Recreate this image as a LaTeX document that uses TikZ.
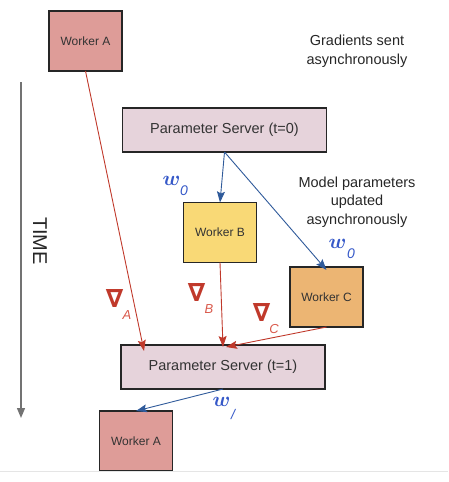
\documentclass[tikz,border=0pt]{standalone}
\usepackage{amsmath,amssymb}
\usepackage{fontspec}
\setmainfont{Liberation Sans}
\newfontfamily\nablafont{DejaVu Sans}
\usepackage{xcolor}
\usetikzlibrary{arrows.meta,positioning,calc}

\definecolor{workerred}{HTML}{DE9C98}
\definecolor{workeryellow}{HTML}{F9D976}
\definecolor{workerorange}{HTML}{ECB573}
\definecolor{serverpink}{HTML}{E6D3DB}
\definecolor{gradred}{HTML}{C0392B}
\definecolor{gradsub}{HTML}{D9584A}
\definecolor{pushblue}{HTML}{2F5A9A}
\definecolor{wblue}{HTML}{3558C8}

\begin{document}
\begin{tikzpicture}[
    x=1pt, y=-1pt,
    font=\fontsize{12}{14}\selectfont,
    worker/.style={rectangle, draw=black!85, line width=1.2pt, inner sep=0pt, outer sep=0pt, minimum width=73pt, minimum height=60pt, text=black!80},
    server/.style={rectangle, draw=black!85, line width=1.2pt, fill=serverpink, inner sep=0pt, outer sep=0pt, minimum width=204pt, minimum height=44pt, text=black!80, font=\fontsize{14.5}{16}\selectfont},
    grad/.style={->, >={Stealth[length=11pt,width=8pt,inset=2pt]}, line width=0.9pt, gradred},
    push/.style={->, >={Stealth[length=11pt,width=8pt,inset=2pt]}, line width=0.9pt, pushblue},
    note/.style={align=center, text=black!85, font=\fontsize{14.5}{18.5}\selectfont},
    wlab/.style={inner sep=0pt, text=wblue, font=\fontsize{21}{21}\selectfont},
    glab/.style={inner sep=0pt, text=gradred, font=\nablafont\bfseries\fontsize{25}{25}\selectfont},
    wsub/.style={inner sep=0pt, text=wblue, font=\fontsize{14}{14}\selectfont\itshape},
    gsub/.style={inner sep=0pt, text=gradsub, font=\fontsize{13}{13}\selectfont\itshape}
]
    \useasboundingbox (0,0) rectangle (448,482);

    % Time axis
    \coordinate (timetop) at (21,82);
    \coordinate (timebot) at (21,418);
    \draw[line width=1.4pt, black!55, -{Triangle[length=10pt,width=8pt]}] (timetop) -- (timebot);
    \node[rotate=-90, text=black!85, font=\fontsize{20}{20}\selectfont] (time) at (40,241) {TIME};

    % Workers and servers
    \node[worker, fill=workerred] (workA) at (85.5,41) {Worker A};
    \node[server] (ps0) at (224.5,130) {Parameter Server (t=0)};
    \node[worker, fill=workeryellow] (workB) at (220,232.5) {Worker B};
    \node[worker, fill=workerorange] (workC) at (326.5,297) {Worker C};
    \node[server] (ps1) at (223,367) {Parameter Server (t=1)};
    \node[worker, fill=workerred] (workAnew) at (136,441) {Worker A};

    % Notes
    \node[note] (gradnote) at (357,51) {Gradients sent\\asynchronously};
    \node[note] (modelnote) at (357,202) {Model parameters\\updated\\asynchronously};

    % Parameters pushed to workers
    \draw[push] (ps0.south) -- (workB.north);
    \draw[push] (ps0.south) -- ([yshift=-3pt]workC.north);
    \draw[push] (ps1.south) -- (workAnew.north);

    % Gradients sent to server
    \draw[grad] (workA.south) -- ([xshift=-79pt,yshift=-6pt]ps1.north);
    \draw[grad] (workB.south) -- ([yshift=-2pt]ps1.north);
    \draw[grad] (workC.south) -- ([xshift=3pt,yshift=-2pt]ps1.north);

    % Parameter labels
    \node[wlab] (w0b) at (171.5,181) {$\boldsymbol{w}$};
    \node[wsub] (w0bsub) at (184,191) {0};
    \node[wlab] (w0c) at (337.5,244) {$\boldsymbol{w}$};
    \node[wsub] (w0csub) at (351,254) {0};
    \node[wlab] (w1) at (221.5,402) {$\boldsymbol{w}$};
    \node[wsub] (w1sub) at (233,414) {/};

    % Gradient labels
    \node[glab] (gA) at (114.5,299) {∇};
    \node[gsub] (gAsub) at (127,315) {A};
    \node[glab] (gB) at (196.5,293) {∇};
    \node[gsub] (gBsub) at (209,309) {B};
    \node[glab] (gC) at (261.5,313) {∇};
    \node[gsub] (gCsub) at (274,329) {C};

    % Bottom rule
    \draw[black!10, line width=0.8pt] (0,471) -- (448,471);
\end{tikzpicture}
\end{document}
